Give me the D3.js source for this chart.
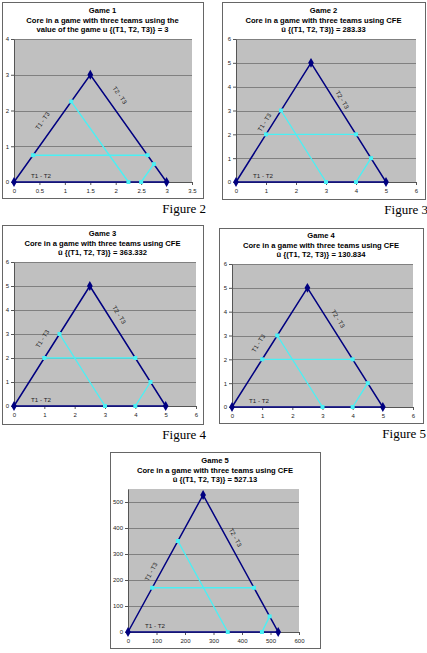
<!DOCTYPE html>
<html>
<head>
<meta charset="utf-8">
<script src="https://cdnjs.cloudflare.com/ajax/libs/d3/7.8.5/d3.min.js"></script>
<style>
  body { margin: 0; background: #fff; }
  svg { display: block; }
</style>
</head>
<body>
<div id="page"></div>
<script>
//chart texts
var gameNames = ["Game 1", "Game 2", "Game 3", "Game 4", "Game 5"];
var titleLine2 = ["Core in a game with three teams using the",
  "Core in a game with three teams using CFE",
  "Core in a game with three teams using CFE",
  "Core in a game with three teams using CFE",
  "Core in a game with three teams using CFE"];
var titleLine3 = ["value of the game u {(T1, T2, T3)} = 3",
  "\u00fb {(T1, T2, T3)} = 283.33",
  "\u00fb {(T1, T2, T3)} = 363.332",
  "\u00fb {(T1, T2, T3)} = 130.834",
  "\u00fb {(T1, T2, T3)} = 527.13"];
var figureNames = ["Figure 2", "Figure 3", "Figure 4", "Figure 5", ""];

//axis ticks
var xTicks = [[0, 0.5, 1, 1.5, 2, 2.5, 3, 3.5],
  [0, 1, 2, 3, 4, 5, 6], [0, 1, 2, 3, 4, 5, 6], [0, 1, 2, 3, 4, 5, 6],
  [0, 100, 200, 300, 400, 500, 600]];
var yTicks = [[0, 1, 2, 3, 4],
  [0, 1, 2, 3, 4, 5, 6], [0, 1, 2, 3, 4, 5, 6], [0, 1, 2, 3, 4, 5, 6],
  [0, 100, 200, 300, 400, 500]];
var xMax = [3.5, 6, 6, 6, 600];
var yMax = [4, 6, 6, 6, 550];

//triangle vertices (base from 0 to baseEnd, apex at apexX/apexY)
var baseEnd = [3, 5, 5, 5, 527];
var apexX = [1.5, 2.5, 2.5, 2.5, 263.5];
var apexY = [3, 5, 5, 5, 527];

//core boundary segments [x1, y1, x2, y2]
var coreLines = [
  [[0.375, 0.75, 2.625, 0.75], [1.125, 2.25, 2.25, 0], [2.5, 0, 2.75, 0.5]],
  [[1, 2, 4, 2], [1.5, 3, 3, 0], [4, 0, 4.5, 1]],
  [[1, 2, 4, 2], [1.5, 3, 3, 0], [4, 0, 4.5, 1]],
  [[1, 2, 4, 2], [1.5, 3, 3, 0], [4, 0, 4.5, 1]],
  [[85, 170, 442, 170], [175, 350, 350, 0], [470, 0, 497, 60]]
];

//page layout: chart box, plot area [left, top, right, bottom], edge label placement
var layout = [
  {box: [2, 2, 203, 198], plot: [14, 39, 192, 182], lab: [0.57, -15, 0.81, 15]},
  {box: [222, 2, 425, 199], plot: [236, 39, 416, 182], lab: [0.5, -9, 0.69, 8]},
  {box: [2, 225, 203, 424], plot: [14, 262, 196, 406], lab: [0.56, -14, 0.76, 11]},
  {box: [219, 228, 423, 423], plot: [232, 264, 413, 407], lab: [0.535, -14, 0.74, 11]},
  {box: [110, 452, 320, 648], plot: [128, 489, 299, 632], lab: [0.44, -10, 0.69, 9]}
];

var navy = "#000080", cyan = "#4af0f4";

var svg = d3.select("#page").append("svg")
  .attr("width", 427).attr("height", 653);

gameNames.forEach(function(name, i) {
  var L = layout[i], b = L.box, p = L.plot;
  var g = svg.append("g");

  //chart frame
  g.append("rect")
    .attr("x", b[0] + 0.5).attr("y", b[1] + 0.5)
    .attr("width", b[2] - b[0]).attr("height", b[3] - b[1])
    .attr("fill", "#fff").attr("stroke", "#666").attr("stroke-width", 1);

  //titles
  var cx = (b[0] + b[2]) / 2;
  [name, titleLine2[i], titleLine3[i]].forEach(function(t, k) {
    g.append("text")
      .attr("x", cx).attr("y", p[1] - 26 + k * 9.5)
      .attr("text-anchor", "middle")
      .style("font-family", "Liberation Sans, Arial, sans-serif")
      .style("font-weight", "bold").style("font-size", "7.6px")
      .text(t);
  });

  var x = d3.scaleLinear().domain([0, xMax[i]]).range([p[0], p[2]]);
  var y = d3.scaleLinear().domain([0, yMax[i]]).range([p[3], p[1]]);

  //plot area
  g.append("rect")
    .attr("x", p[0]).attr("y", p[1])
    .attr("width", p[2] - p[0]).attr("height", p[3] - p[1])
    .attr("fill", "#c0c0c0");

  //gridlines
  g.selectAll(".grid").data(yTicks[i].filter(function(d) { return d > 0; }))
    .enter().append("line")
    .attr("x1", p[0]).attr("x2", p[2])
    .attr("y1", function(d) { return Math.round(y(d)) + 0.5; })
    .attr("y2", function(d) { return Math.round(y(d)) + 0.5; })
    .attr("stroke", "#707070").attr("stroke-width", 0.8);

  //axes
  var ax = g.append("g").attr("transform", "translate(0," + p[3] + ")")
    .call(d3.axisBottom(x).tickValues(xTicks[i]).tickSize(3).tickSizeOuter(0)
      .tickFormat(function(d) { return String(d); }));
  var ay = g.append("g").attr("transform", "translate(" + p[0] + ",0)")
    .call(d3.axisLeft(y).tickValues(yTicks[i]).tickSize(3).tickSizeOuter(0)
      .tickFormat(function(d) { return String(d); }));
  [ax, ay].forEach(function(a) {
    a.selectAll("path,line").attr("stroke", "#555");
    a.selectAll("text")
      .style("font-family", "Liberation Sans, Arial, sans-serif")
      .style("font-size", "6px").attr("fill", "#222");
  });
  ax.selectAll("text").attr("dy", "0.9em");
  ay.selectAll("text").attr("x", -5);

  //triangle
  var tri = [[0, 0], [apexX[i], apexY[i]], [baseEnd[i], 0], [0, 0]];
  var line = d3.line().x(function(d) { return x(d[0]); }).y(function(d) { return y(d[1]); });
  g.append("path").attr("d", line(tri))
    .attr("fill", "none").attr("stroke", navy).attr("stroke-width", 1.5);

  //core lines
  coreLines[i].forEach(function(s) {
    g.append("line")
      .attr("x1", x(s[0])).attr("y1", y(s[1]))
      .attr("x2", x(s[2])).attr("y2", y(s[3]))
      .attr("stroke", cyan).attr("stroke-width", 1.4);
    [[s[0], s[1]], [s[2], s[3]]].forEach(function(pt) {
      g.append("rect")
        .attr("x", x(pt[0]) - 2).attr("y", y(pt[1]) - 2)
        .attr("width", 4).attr("height", 4).attr("fill", cyan);
    });
  });

  //vertex markers
  var diamond = d3.symbol().type(d3.symbolDiamond).size(28);
  tri.slice(0, 3).forEach(function(pt) {
    g.append("path").attr("d", diamond)
      .attr("transform", "translate(" + x(pt[0]) + "," + y(pt[1]) + ")")
      .attr("fill", navy);
  });

  //edge labels
  var x0 = x(0), y0 = y(0), xa = x(apexX[i]), ya = y(apexY[i]), xe = x(baseEnd[i]);
  var ang = Math.atan2(y0 - ya, xa - x0) * 180 / Math.PI;
  var lab = L.lab;
  var ly = y0 - lab[0] * (y0 - ya);
  var lx = x0 + (y0 - ly) / (y0 - ya) * (xa - x0) + lab[1];
  var ry = y0 - lab[2] * (y0 - ya);
  var rx = xe - (y0 - ry) / (y0 - ya) * (xe - xa) + lab[3];
  var labStyle = function(t) {
    t.attr("text-anchor", "middle").attr("dy", "0.35em")
      .style("font-family", "Liberation Sans, Arial, sans-serif")
      .style("font-size", "6.2px").attr("fill", "#222");
  };
  g.append("text").attr("transform", "translate(" + lx + "," + ly + ") rotate(" + (-ang) + ")")
    .call(labStyle).text("T1 - T3");
  g.append("text").attr("transform", "translate(" + rx + "," + ry + ") rotate(" + ang + ")")
    .call(labStyle).text("T2 - T3");
  g.append("text").attr("x", x0 + 27).attr("y", y0 - 6)
    .call(labStyle).text("T1 - T2");

  //figure caption
  if (figureNames[i]) {
    svg.append("text")
      .attr("x", b[2] + 3).attr("y", b[3] + 15)
      .attr("text-anchor", "end")
      .style("font-family", "Liberation Serif, Times New Roman, serif")
      .style("font-size", "13px")
      .text(figureNames[i]);
  }
});
</script>
</body>
</html>
